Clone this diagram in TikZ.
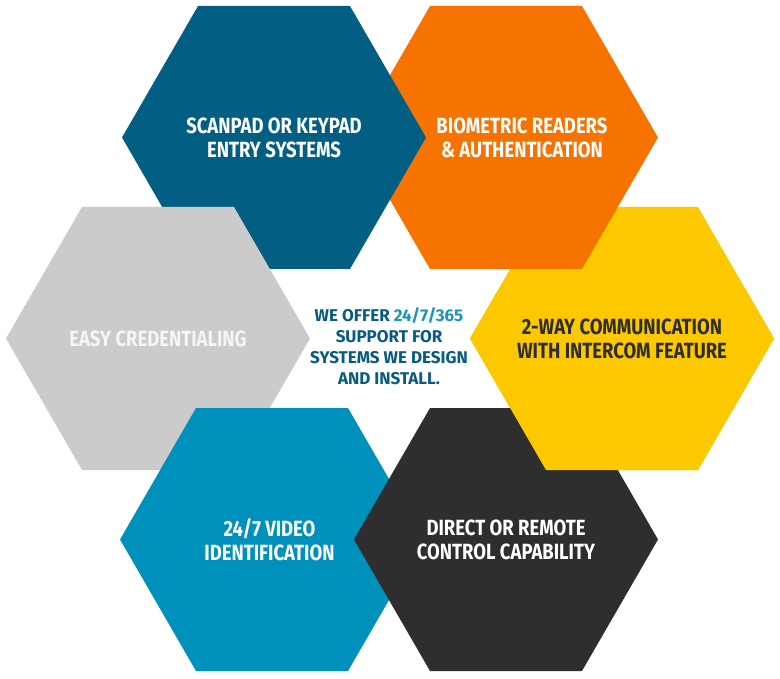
\documentclass[tikz,border=0pt]{standalone}
\usepackage{fontspec}
\newfontfamily\hexfont[FakeStretch=0.84]{Fira Sans}
\newfontfamily\midfont{Fira Sans}
\definecolor{cdb}{HTML}{025E82}
\definecolor{cor}{HTML}{F77300}
\definecolor{cye}{HTML}{FCC800}
\definecolor{cgr}{HTML}{CBCBCB}
\definecolor{cbl}{HTML}{0090BC}
\definecolor{cch}{HTML}{2E2E2E}
\definecolor{ctxt}{HTML}{2D2D2D}
\definecolor{cmid}{HTML}{075B80}
\definecolor{cacc}{HTML}{1A95C0}
\tikzset{
  hexlabel/.style={align=center, font=\hexfont\bfseries\fontsize{22}{24}\selectfont, inner sep=0pt},
  midlabel/.style={align=center, font=\midfont\bfseries\fontsize{17}{21}\selectfont, inner sep=0pt, text=cmid},
}
\begin{document}
\begin{tikzpicture}[x=1pt,y=-1pt]
\useasboundingbox (0,0) rectangle (780,679);
\coordinate (cDB) at (274,137.5);
\coordinate (cOR) at (506,137.5);
\coordinate (cGR) at (158,338.5);
\coordinate (cYE) at (622,338.5);
\coordinate (cBL) at (272,539.5);
\coordinate (cCH) at (506,539.5);
% hexagons (cyclic overlap)
\fill[cye, shift={(cYE)}] (-152,0) -- (-76,-131.5) -- (76,-131.5) -- (152,0) -- (76,131.5) -- (-76,131.5) -- cycle;
\fill[cor, shift={(cOR)}] (-152,0) -- (-76,-131.5) -- (76,-131.5) -- (152,0) -- (76,131.5) -- (-76,131.5) -- cycle;
\fill[cdb, shift={(cDB)}] (-152,0) -- (-76,-131.5) -- (76,-131.5) -- (152,0) -- (76,131.5) -- (-76,131.5) -- cycle;
\fill[cgr, shift={(cGR)}] (-152,0) -- (-76,-131.5) -- (76,-131.5) -- (152,0) -- (76,131.5) -- (-76,131.5) -- cycle;
\fill[cbl, shift={(cBL)}] (-152,0) -- (-76,-131.5) -- (76,-131.5) -- (152,0) -- (76,131.5) -- (-76,131.5) -- cycle;
\fill[cch, shift={(cCH)}] (-152,0) -- (-76,-131.5) -- (76,-131.5) -- (152,0) -- (76,131.5) -- (-76,131.5) -- cycle;
\begin{scope}
  \clip (400,290) rectangle (780,679);
  \fill[cye, shift={(cYE)}] (-152,0) -- (-76,-131.5) -- (76,-131.5) -- (152,0) -- (76,131.5) -- (-76,131.5) -- cycle;
\end{scope}
% labels
\node[hexlabel, text=white] (tDB) at (cDB) {SCANPAD OR KEYPAD\\ENTRY SYSTEMS};
\node[hexlabel, text=white] (tOR) at (522,137.5) {BIOMETRIC READERS\\\& AUTHENTICATION};
\node[hexlabel, text=white!96!black] (tGR) at (cGR) {EASY CREDENTIALING};
\node[hexlabel, text=ctxt] (tYE) at (cYE) {2-WAY COMMUNICATION\\WITH INTERCOM FEATURE};
\node[hexlabel, text=white] (tBL) at (269.5,539.5) {24/7 VIDEO\\IDENTIFICATION};
\node[hexlabel, text=white] (tCH) at (cCH) {DIRECT OR REMOTE\\CONTROL CAPABILITY};
\node[midlabel] (tMID) at (389,346.5) {WE OFFER \textcolor{cacc}{24/7/365}\\SUPPORT FOR\\SYSTEMS WE DESIGN\\AND INSTALL.};
\end{tikzpicture}
\end{document}
